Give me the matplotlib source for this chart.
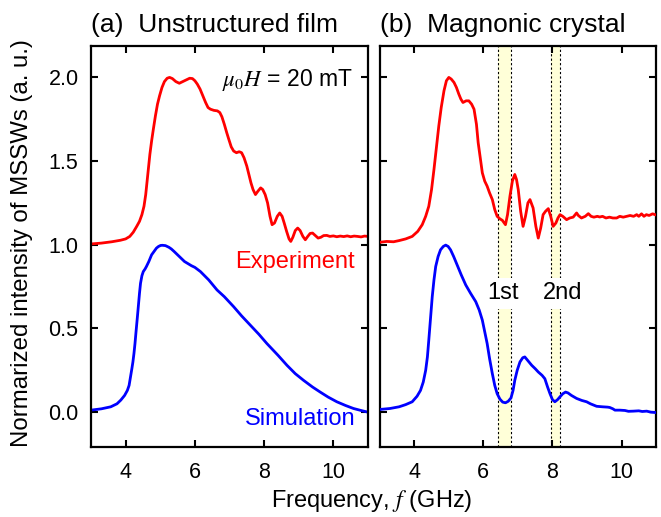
import matplotlib
matplotlib.use('Agg')
import matplotlib.pyplot as plt

plt.rcParams['font.family'] = ['Liberation Sans', 'DejaVu Sans']
plt.rcParams['mathtext.fontset'] = 'stix'

# (a) 无结构薄膜：实验 / 模拟
exp_a_f = [3.0, 3.3, 3.6, 3.85, 4.0, 4.12, 4.22, 4.32, 4.4, 4.47, 4.53, 4.58, 4.62, 4.66,
           4.70, 4.75, 4.8, 4.86, 4.92, 4.98, 5.05, 5.12, 5.2, 5.27, 5.35, 5.45, 5.55, 5.65,
           5.75, 5.85, 5.93, 6.0, 6.07, 6.15, 6.23, 6.31, 6.38, 6.45, 6.55, 6.65, 6.72, 6.78,
           6.85, 6.92, 6.98, 7.05, 7.12, 7.2, 7.28, 7.35, 7.42, 7.5, 7.56, 7.62, 7.68, 7.75,
           7.82, 7.9, 7.96, 8.03, 8.1, 8.17, 8.23, 8.3, 8.38, 8.45, 8.52, 8.58, 8.65, 8.72,
           8.77, 8.83, 8.9, 8.97, 9.04, 9.12, 9.19, 9.26, 9.33, 9.4, 9.48, 9.56, 9.64, 9.72,
           9.81, 9.9, 10.0, 10.1, 10.2, 10.3, 10.4, 10.5, 10.6, 10.7, 10.8, 10.9, 11.0]
exp_a_i = [1.005, 1.01, 1.018, 1.027, 1.035, 1.05, 1.075, 1.11, 1.14, 1.18, 1.23, 1.30, 1.38, 1.46,
           1.54, 1.62, 1.69, 1.77, 1.84, 1.89, 1.94, 1.975, 1.995, 2.0, 1.993, 1.975, 1.965, 1.975,
           1.985, 1.995, 1.993, 1.98, 1.96, 1.93, 1.89, 1.85, 1.82, 1.81, 1.803, 1.80, 1.79, 1.765,
           1.72, 1.67, 1.63, 1.585, 1.56, 1.55, 1.556, 1.55, 1.52, 1.47, 1.42, 1.37, 1.33, 1.30,
           1.32, 1.34, 1.33, 1.30, 1.25, 1.17, 1.12, 1.13, 1.17, 1.19, 1.17, 1.13, 1.08, 1.035,
           1.02, 1.045, 1.085, 1.10, 1.085, 1.05, 1.03, 1.05, 1.068, 1.07, 1.055, 1.04, 1.045, 1.055,
           1.056, 1.05, 1.053, 1.048, 1.052, 1.049, 1.053, 1.048, 1.052, 1.05, 1.047, 1.052, 1.05]

sim_a_f = [3.0, 3.3, 3.57, 3.75, 3.86, 3.97, 4.05, 4.1, 4.14, 4.18, 4.21, 4.24, 4.27, 4.3,
           4.34, 4.37, 4.4, 4.43, 4.47, 4.51, 4.56, 4.6, 4.67, 4.75, 4.82, 4.89, 4.95, 5.01,
           5.06, 5.15, 5.25, 5.32, 5.4, 5.5, 5.6, 5.7, 5.78, 5.9, 6.0, 6.16, 6.28, 6.4,
           6.52, 6.64, 6.85, 7.12, 7.35, 7.6, 7.85, 8.08, 8.4, 8.66, 8.9, 9.14, 9.4, 9.62,
           9.85, 10.1, 10.35, 10.58, 10.8, 11.0]
sim_a_i = [0.012, 0.02, 0.032, 0.05, 0.072, 0.10, 0.13, 0.16, 0.21, 0.26, 0.30, 0.35, 0.41, 0.48,
           0.57, 0.64, 0.71, 0.77, 0.815, 0.84, 0.855, 0.87, 0.90, 0.94, 0.96, 0.98, 0.99, 0.996,
           0.997, 0.995, 0.985, 0.975, 0.96, 0.94, 0.92, 0.90, 0.89, 0.875, 0.865, 0.84, 0.815, 0.79,
           0.76, 0.73, 0.69, 0.63, 0.575, 0.52, 0.465, 0.41, 0.34, 0.28, 0.23, 0.19, 0.15, 0.12,
           0.09, 0.062, 0.04, 0.022, 0.01, 0.0]

# (b) 磁子晶体：实验 / 模拟
exp_b_f = [3.0, 3.2, 3.4, 3.56, 3.75, 3.94, 4.1, 4.23, 4.33, 4.42, 4.5, 4.57, 4.64, 4.71,
           4.78, 4.86, 4.93, 5.0, 5.07, 5.15, 5.22, 5.29, 5.35, 5.41, 5.5, 5.58, 5.66, 5.73,
           5.8, 5.85, 5.91, 5.97, 6.04, 6.11, 6.18, 6.26, 6.33, 6.40, 6.48, 6.55, 6.64, 6.7,
           6.77, 6.84, 6.91, 6.96, 7.01, 7.08, 7.15, 7.22, 7.29, 7.35, 7.44, 7.52, 7.59, 7.66,
           7.73, 7.8, 7.88, 7.95, 8.02, 8.1, 8.16, 8.22, 8.3, 8.41, 8.5, 8.6, 8.7, 8.75,
           8.84, 8.95, 9.04, 9.12, 9.2, 9.3, 9.37, 9.45, 9.55, 9.65, 9.75, 9.86, 9.95, 10.05,
           10.15, 10.25, 10.35, 10.44, 10.5, 10.58, 10.65, 10.72, 10.8, 10.9, 10.97]
exp_b_i = [1.015, 1.02, 1.018, 1.025, 1.035, 1.05, 1.08, 1.12, 1.17, 1.23, 1.33, 1.45, 1.58, 1.71,
           1.82, 1.92, 1.98, 2.00, 1.99, 1.97, 1.94, 1.90, 1.87, 1.85, 1.86, 1.86, 1.84, 1.81,
           1.72, 1.61, 1.52, 1.43, 1.38, 1.35, 1.31, 1.27, 1.21, 1.17, 1.155, 1.146, 1.12, 1.18,
           1.29, 1.38, 1.42, 1.39, 1.33, 1.20, 1.11, 1.17, 1.25, 1.27, 1.22, 1.11, 1.04, 1.10,
           1.18, 1.20, 1.216, 1.17, 1.11, 1.13, 1.16, 1.18, 1.17, 1.15, 1.16, 1.165, 1.19, 1.175,
           1.16, 1.17, 1.186, 1.17, 1.165, 1.17, 1.166, 1.17, 1.16, 1.165, 1.16, 1.16, 1.17, 1.165,
           1.17, 1.175, 1.17, 1.18, 1.17, 1.185, 1.17, 1.18, 1.175, 1.185, 1.18]

sim_b_f = [3.0, 3.3, 3.56, 3.75, 3.94, 4.08, 4.18, 4.26, 4.33, 4.38, 4.42, 4.47, 4.52, 4.57,
           4.62, 4.69, 4.76, 4.84, 4.91, 4.98, 5.05, 5.14, 5.24, 5.36, 5.49, 5.63, 5.78, 5.88,
           5.97, 6.04, 6.11, 6.18, 6.26, 6.33, 6.40, 6.48, 6.56, 6.64, 6.72, 6.8, 6.86, 6.91,
           6.98, 7.06, 7.14, 7.2, 7.3, 7.4, 7.5, 7.59, 7.7, 7.78, 7.86, 7.93, 8.0, 8.07,
           8.15, 8.22, 8.3, 8.38, 8.45, 8.55, 8.7, 8.85, 8.99, 9.1, 9.28, 9.45, 9.6, 9.66,
           9.75, 9.81, 9.95, 10.1, 10.2, 10.34, 10.5, 10.6, 10.73, 10.85, 10.97]
sim_b_i = [0.016, 0.022, 0.032, 0.045, 0.062, 0.095, 0.13, 0.18, 0.25, 0.33, 0.43, 0.56, 0.69, 0.79,
           0.87, 0.93, 0.97, 0.99, 0.998, 0.99, 0.97, 0.93, 0.88, 0.82, 0.76, 0.71, 0.66, 0.61,
           0.55, 0.48, 0.41, 0.32, 0.23, 0.16, 0.11, 0.078, 0.06, 0.056, 0.065, 0.085, 0.13, 0.19,
           0.25, 0.30, 0.325, 0.33, 0.305, 0.28, 0.26, 0.24, 0.22, 0.20, 0.15, 0.11, 0.075, 0.062,
           0.075, 0.092, 0.11, 0.12, 0.115, 0.10, 0.082, 0.07, 0.062, 0.05, 0.035, 0.032, 0.03, 0.028,
           0.02, 0.012, 0.012, 0.01, 0.005, 0.006, 0.008, 0.004, 0.006, 0.0, -0.002]

# 带隙区域
gaps = [(6.43, 6.80), (7.97, 8.22)]
gap_labels = ['1st', '2nd']
gap_label_x = [6.57, 8.29]

fig = plt.figure(figsize=(6.61, 5.17), dpi=100)
ax1 = fig.add_axes([0.1377, 0.1348, 0.419, 0.777])
ax2 = fig.add_axes([0.5745, 0.1348, 0.418, 0.777])

for ax in (ax1, ax2):
    ax.set_xlim(3, 11)
    ax.set_ylim(-0.21, 2.19)
    ax.set_xticks([4, 6, 8, 10])
    ax.set_yticks([0.0, 0.5, 1.0, 1.5, 2.0])
    ax.tick_params(direction='in', top=True, right=True, length=5, width=1.5,
                   labelsize=15.5)
    ax.tick_params(axis='x', pad=10.5)
    ax.tick_params(axis='y', pad=9)
    for s in ax.spines.values():
        s.set_linewidth(1.6)

ax1.set_yticklabels(['0.0', '0.5', '1.0', '1.5', '2.0'])
ax2.set_yticklabels([])

ax1.plot(exp_a_f, exp_a_i, color='#FF0000', lw=2)
ax1.plot(sim_a_f, sim_a_i, color='#0000FF', lw=2)
ax2.plot(exp_b_f, exp_b_i, color='#FF0000', lw=2, zorder=3)
ax2.plot(sim_b_f, sim_b_i, color='#0000FF', lw=2, zorder=3)

for (a, b), lab, lx in zip(gaps, gap_labels, gap_label_x):
    ax2.axvspan(a, b, color='#FFFFD8', lw=0, zorder=0)
    ax2.axvline(a, color='k', lw=0.8, ls=(0, (2, 2)), zorder=1)
    ax2.axvline(b, color='k', lw=0.8, ls=(0, (2, 2)), zorder=1)
    ax2.text(lx, 0.71, lab, ha='center', va='center', fontsize=17, zorder=2,
             bbox=dict(facecolor='white', edgecolor='none', pad=3))

ax1.text(10.55, 1.95, r'$\mu_0H$ = 20 mT', ha='right', va='baseline', fontsize=16.5)
ax1.text(10.63, 0.9, 'Experiment', color='#FF0000', ha='right', va='center', fontsize=17)
ax1.text(10.63, -0.04, 'Simulation', color='#0000FF', ha='right', va='center', fontsize=17)

ax1.text(0.0, 1.035, '(a)  Unstructured film', transform=ax1.transAxes,
         ha='left', va='baseline', fontsize=19)
ax2.text(0.0, 1.035, '(b)  Magnonic crystal', transform=ax2.transAxes,
         ha='left', va='baseline', fontsize=19)

fig.text(22 / 661, 0.529, 'Normarized intensity of MSSWs (a. u.)', rotation=90,
         ha='center', va='center', fontsize=17.3)
fig.text(0.563, 0.02, r'Frequency, $f$ (GHz)', ha='center', va='baseline', fontsize=17)

plt.savefig('out.png', dpi=100)
